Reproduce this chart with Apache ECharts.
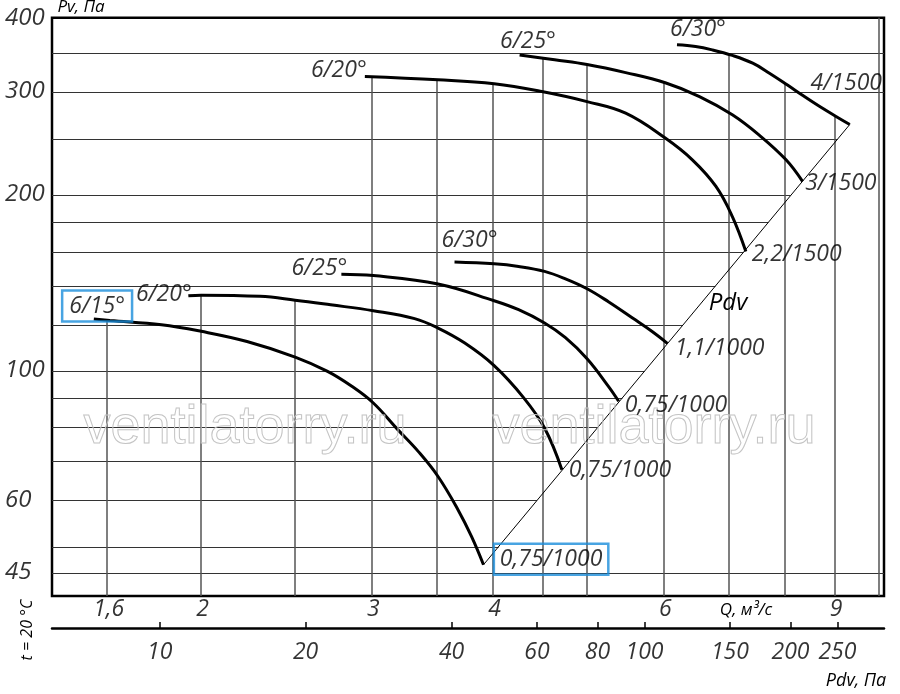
<!DOCTYPE html>
<html>
<head>
<meta charset="utf-8">
<script src="https://cdn.jsdelivr.net/npm/echarts@6.0.0/dist/echarts.min.js"></script>
<style>
html, body { margin: 0; padding: 0; background: #fff; }
#chart { width: 900px; height: 694px; }
</style>
</head>
<body>
<div id="chart"></div>
<script>
// axis ranges (Q, м3/с and Pv, Па)
var qMin = 1.4035, qMax = 10.12;
var pMin = 41.2, pMax = 403;
// Pdv = pdvK * Q^2 (dynamic pressure scale under the chart)
var pdvK = 3.045;

// fan curves, [Q, Pv]
var curve1 = [[1.55, 122.8], [1.61, 122.1], [1.82, 120.1], [2.0, 117], [2.23, 112.4], [2.5, 105.7], [2.7, 99.9], [2.86, 94.2], [3.01, 88.2], [3.19, 79.4], [3.35, 72.8], [3.51, 66], [3.68, 57.9], [3.8, 52.1], [3.91, 46.6]];
var curve2 = [[1.94, 134.6], [2.0, 134.9], [2.3, 134.3], [2.5, 132.3], [2.72, 129.9], [3.01, 126.9], [3.32, 123], [3.51, 118.5], [3.74, 111.7], [4.01, 102.2], [4.3, 90.1], [4.52, 79.9], [4.71, 67.8]];
var curve3 = [[2.79, 146.6], [3.01, 145.8], [3.51, 141], [4.01, 132], [4.25, 127.4], [4.52, 120.9], [4.75, 114.1], [5.0, 105], [5.26, 94.2], [5.39, 88.8]];
var curve4 = [[3.65, 153.8], [4.01, 152.7], [4.25, 151.1], [4.52, 148.2], [4.75, 143.9], [5.0, 138.4], [5.26, 131.5], [5.57, 123.3], [5.84, 116.8], [6.05, 111.6]];
var curve5 = [[2.95, 319.5], [3.51, 315.4], [4.01, 310.5], [4.49, 301.2], [5.0, 289.5], [5.48, 276.6], [6.02, 250.7], [6.42, 230.1], [6.79, 207.2], [7.06, 184], [7.29, 160.3]];
var curve6 = [[4.26, 348], [4.63, 341.3], [5.0, 335], [5.48, 324.5], [6.02, 311.8], [6.53, 295.3], [7.06, 274.8], [7.53, 253.4], [8.02, 230.1], [8.34, 211.3]];
var curve7 = [[6.19, 362.1], [6.47, 359.7], [6.73, 355], [7.06, 347.3], [7.41, 336.8], [7.71, 323.8], [8.04, 309.3], [8.34, 296.7], [8.68, 284.1], [9.03, 273], [9.33, 264.5]];
var curves = [curve1, curve2, curve3, curve4, curve5, curve6, curve7];

// blade angle / motor labels
var angleNames = ['6/15°', '6/20°', '6/25°', '6/30°', '6/20°', '6/25°', '6/30°'];
var motorNames = ['0,75/1000', '0,75/1000', '0,75/1000', '1,1/1000', '2,2/1500', '3/1500', '4/1500'];

// Pdv line through the curve ends
var pdvLine = [[3.91, 46.6], [9.33, 264.5]];

// tick labels
var qTicks = [1.6, 2, 3, 4, 6, 9];
var pTicks = [45, 60, 100, 200, 300, 400];
var pdvTicks = [10, 20, 40, 60, 80, 100, 150, 200, 250];

// grid lines
var hGridP = [45, 50, 60, 70, 80, 90, 100, 120, 140, 160, 180, 200, 250, 300, 350];
var hGridFull = [45, 300, 350];
var vGridQ = [1.6, 2, 2.5, 3, 3.5, 4, 4.5, 5, 6, 7, 8, 9, 10];
var vGridTop = [122.1, 134.9, 132.3, 318.8, 315.4, 310.5, 344, 335, 312, 348.5, 310.5, 274, 403];

var FONT = 'Open Sans';
var startOffsets = [[3.3, -13], [-24.5, -1.5], [-22, -5.3], [15, -22], [-26, -6], [8.4, -13.5], [21, -15]];
var endOffsets = [[67.6, -5.5], [58, 1], [57.3, 4.3], [52.3, 4.8], [50.9, 3.3], [38.3, 2.5], [-3.5, -41]];
var boxStyle = { borderColor: '#1a8ddb', borderWidth: 2.5, padding: [4, 7] };

var chart = echarts.init(document.getElementById('chart'));

var hGridData = hGridP.map(function (p) {
    var qEnd = hGridFull.indexOf(p) >= 0 ? qMax : Math.sqrt(p / pdvK);
    return { coords: [[qMin, p], [qEnd, p]] };
});
var vGridData = vGridQ.map(function (q, i) {
    return { coords: [[q, pMin], [q, vGridTop[i]]] };
});

var labelData = [];
curves.forEach(function (c, i) {
    var s = { value: c[0], label: { formatter: angleNames[i], offset: startOffsets[i] } };
    var e = { value: c[c.length - 1], label: { formatter: motorNames[i], offset: endOffsets[i] } };
    if (i === 0) {
        Object.assign(s.label, boxStyle);
        Object.assign(e.label, boxStyle, { padding: [4, 6] });
    }
    labelData.push(s, e);
});

function textLabel(extra) {
    return Object.assign({
        show: true,
        position: 'inside',
        color: '#000',
        fontFamily: FONT,
        fontStyle: 'italic',
        fontWeight: 500,
        fontSize: 23,
        lineHeight: 23
    }, extra);
}

var hidden = {
    axisLine: { show: false },
    axisTick: { show: false },
    axisLabel: { show: false },
    splitLine: { show: false }
};

var series = [
    {
        type: 'lines', coordinateSystem: 'cartesian2d', xAxisIndex: 0, yAxisIndex: 0,
        silent: true, z: 1,
        lineStyle: { color: '#333', width: 1.2, opacity: 1 },
        data: hGridData
    },
    {
        type: 'lines', coordinateSystem: 'cartesian2d', xAxisIndex: 0, yAxisIndex: 0,
        silent: true, z: 1,
        lineStyle: { color: '#555', width: 1.5, opacity: 1 },
        data: vGridData
    },
    {
        type: 'line', xAxisIndex: 0, yAxisIndex: 0, z: 3, silent: true,
        showSymbol: false, data: pdvLine,
        lineStyle: { color: '#000', width: 1 }
    }
];

curves.forEach(function (c) {
    series.push({
        type: 'line', xAxisIndex: 0, yAxisIndex: 0, z: 4, silent: true,
        showSymbol: false, smooth: 0.4,
        data: c,
        lineStyle: { color: '#000', width: 3 }
    });
});

// curve labels
series.push({
    type: 'scatter', xAxisIndex: 0, yAxisIndex: 0, z: 6, silent: true, clip: false,
    symbolSize: 1, itemStyle: { color: 'rgba(0,0,0,0)' },
    label: textLabel({}),
    data: labelData
});

// Q tick labels
series.push({
    type: 'scatter', xAxisIndex: 0, yAxisIndex: 0, z: 6, silent: true, clip: false,
    symbolSize: 1, itemStyle: { color: 'rgba(0,0,0,0)' },
    label: textLabel({
        offset: [1.5, 13],
        formatter: function (p) { return String(p.value[0]).replace('.', ','); }
    }),
    data: qTicks.map(function (q) { return [q, pMin]; })
});

// Pv tick labels
series.push({
    type: 'scatter', xAxisIndex: 0, yAxisIndex: 0, z: 6, silent: true, clip: false,
    symbolSize: 1, itemStyle: { color: 'rgba(0,0,0,0)' },
    label: textLabel({
        fontSize: 24,
        align: 'left',
        offset: [-47, -1],
        formatter: function (p) { return String(p.value[1]); }
    }),
    data: pTicks.map(function (p) { return [qMin, p]; })
});

// Pdv ticks and labels
series.push({
    type: 'lines', coordinateSystem: 'cartesian2d', xAxisIndex: 1, yAxisIndex: 1,
    silent: true, z: 3,
    lineStyle: { color: '#000', width: 1.5, opacity: 1 },
    data: pdvTicks.map(function (v) { return { coords: [[v, 0], [v, 1]] }; })
});
series.push({
    type: 'scatter', xAxisIndex: 1, yAxisIndex: 1, z: 6, silent: true, clip: false,
    symbolSize: 1, itemStyle: { color: 'rgba(0,0,0,0)' },
    label: textLabel({
        offset: [0, 24],
        formatter: function (p) { return String(p.value[0]); }
    }),
    data: pdvTicks.map(function (v) { return [v, 0]; })
});

function gText(x, y, text, size, extra) {
    return Object.assign({
        type: 'text', x: x, y: y, silent: true, z: 10,
        style: {
            text: text, fill: '#000', fontFamily: FONT, fontStyle: 'italic', fontWeight: 500,
            fontSize: size, align: 'center', verticalAlign: 'middle'
        }
    }, extra || {});
}

var watermarkStyle = {
    fill: 'none', stroke: '#c4c4c4', lineWidth: 1,
    fontFamily: 'Liberation Sans', fontSize: 54, align: 'center', verticalAlign: 'middle'
};

var option = {
    animation: false,
    backgroundColor: '#fff',
    grid: [
        { left: 52, right: 16, top: 17.7, bottom: 98, show: true, borderColor: '#000', borderWidth: 2.5, backgroundColor: 'rgba(0,0,0,0)' },
        { left: 52, right: 16, top: 622, bottom: 65.7 }
    ],
    xAxis: [
        Object.assign({ type: 'log', gridIndex: 0, min: qMin, max: qMax }, hidden),
        Object.assign({}, hidden, {
            type: 'log', gridIndex: 1, position: 'bottom',
            min: pdvK * qMin * qMin, max: pdvK * qMax * qMax,
            axisLine: { show: true, onZero: false, lineStyle: { color: '#000', width: 2.5 } }
        })
    ],
    yAxis: [
        Object.assign({ type: 'log', gridIndex: 0, min: pMin, max: pMax }, hidden),
        Object.assign({ type: 'value', gridIndex: 1, min: 0, max: 1 }, hidden)
    ],
    graphic: [
        { type: 'text', x: 245, y: 428, silent: true, z: 5, style: Object.assign({ text: 'ventilatorry.ru' }, watermarkStyle) },
        { type: 'text', x: 654, y: 428, silent: true, z: 5, style: Object.assign({ text: 'ventilatorry.ru' }, watermarkStyle) },
        gText(81, 7, 'Pv, Па', 17),
        gText(746, 610, 'Q, м³/с', 17),
        gText(856, 681, 'Pdv, Па', 18),
        gText(728, 303, 'Pdv', 24),
        gText(27, 630, 't = 20 °C', 16, { rotation: Math.PI / 2 })
    ],
    series: series
};

chart.setOption(option);
</script>
</body>
</html>
